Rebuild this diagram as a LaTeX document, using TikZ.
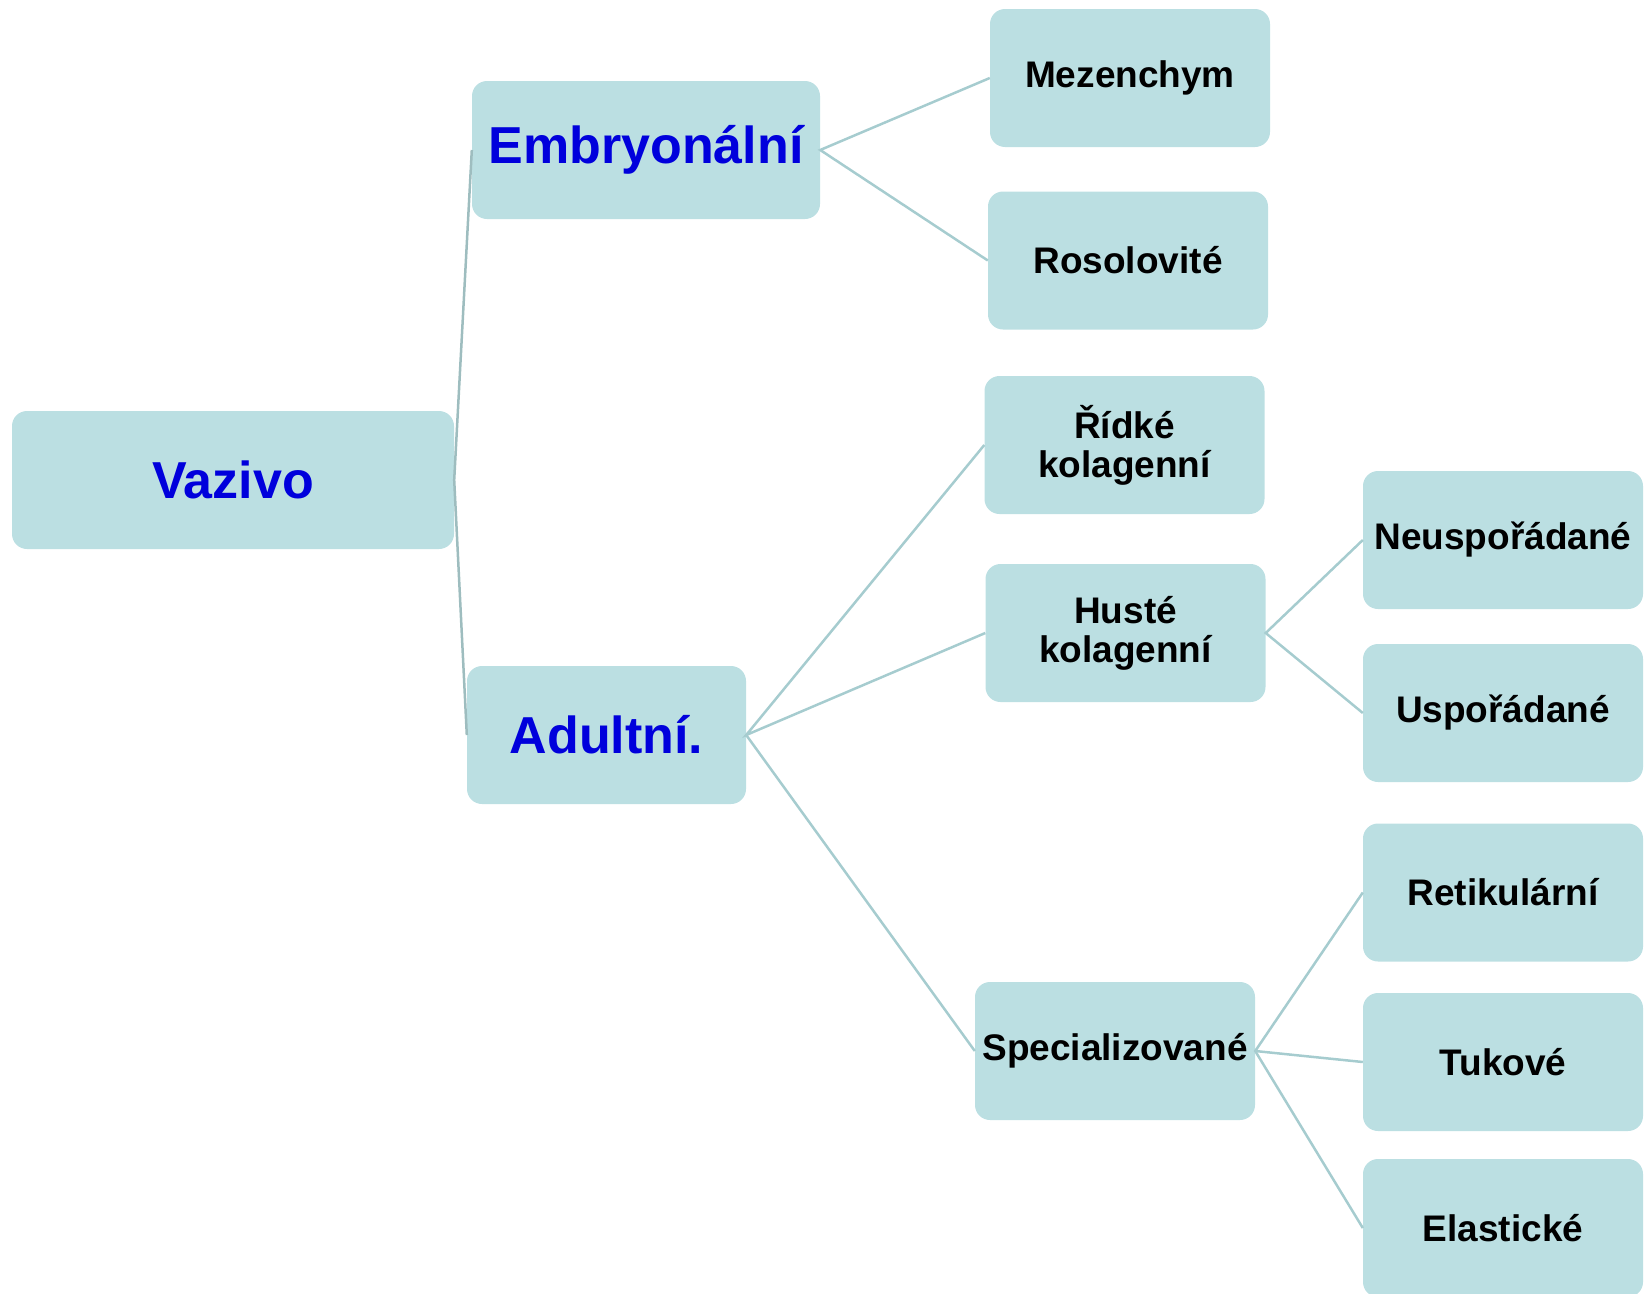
\documentclass[tikz,border=0pt]{standalone}
\usepackage{fontspec}
\setmainfont{Liberation Sans}
\definecolor{boxfill}{RGB}{187,223,226}
\definecolor{linkcol}{RGB}{166,204,207}
\definecolor{headblue}{RGB}{0,0,220}
\begin{document}
\begin{tikzpicture}[x=1pt,y=-1pt,
		vertex/.style={rectangle,rounded corners=15pt,fill=boxfill,draw=none,
		inner sep=0pt,minimum height=138pt,align=center},
		bigvertex/.style={vertex,text=headblue,font=\bfseries\fontsize{52}{56}\selectfont},
		smallvertex/.style={vertex,minimum width=280pt,font=\bfseries\fontsize{37}{39}\selectfont},
		link/.style={draw=linkcol,line width=2.5pt}
		]
		\useasboundingbox (0,0) rectangle (1648,1293);

		\node[bigvertex, minimum width=442pt](V) at (233,480){Vazivo};
		\node[bigvertex, minimum width=348pt](E) at (646,150){Embryonální};
		\node[bigvertex, minimum width=279pt](A) at (606.5,735){Adultní.};

		\node[smallvertex](M) at (1130,78){Mezenchym};
		\node[smallvertex](R) at (1128,260.5){Rosolovité};
		\node[smallvertex](RK) at (1124.5,445){Řídké\\kolagenní};
		\node[smallvertex](HK) at (1125.5,633){Husté\\kolagenní};
		\node[smallvertex](S) at (1115,1051){Specializované};
		\node[smallvertex](N) at (1503,540){Neuspořádané};
		\node[smallvertex](U) at (1503,713){Uspořádané};
		\node[smallvertex](RT) at (1503,892.5){Retikulární};
		\node[smallvertex](T) at (1503,1062){Tukové};
		\node[smallvertex](EL) at (1503,1228){Elastické};

		\draw[link, draw=linkcol!80!gray] (E.west) -- (V.east) -- (A.west);
		\draw[link] (M.west) -- (E.east) -- (R.west);
		\draw[link] (RK.west) -- (A.east) -- (HK.west);
		\draw[link] (A.east) -- (S.west);
		\draw[link] (N.west) -- (HK.east) -- (U.west);
		\draw[link] (RT.west) -- (S.east) -- (EL.west);
		\draw[link] (S.east) -- (T.west);
	\end{tikzpicture}
\end{document}
